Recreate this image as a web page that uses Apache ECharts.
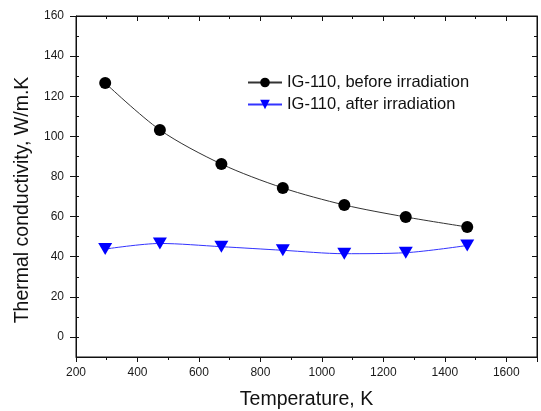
<!DOCTYPE html>
<html><head><meta charset="utf-8">
<script src="https://cdn.jsdelivr.net/npm/echarts@6/dist/echarts.min.js"></script>
<style>html,body{margin:0;padding:0;background:#fff}#c{width:541px;height:411px}</style>
</head><body><div id="c"></div>
<script>
const temperatures = [295, 473, 673, 873, 1073, 1273, 1473];
const beforeIrr = [126.6, 103.2, 86.2, 74.3, 65.8, 59.8, 54.8];
const afterIrr = [43.8, 46.6, 45.0, 43.2, 41.5, 42.0, 45.6];
const yTickLabels = [0, 20, 40, 60, 80, 100, 120, 140, 160];
const xTickLabels = [200, 400, 600, 800, 1000, 1200, 1400, 1600];
const seriesNames = ['IG-110, before irradiation', 'IG-110, after irradiation'];

const font = 'Arial, "Liberation Sans", sans-serif';
const chart = echarts.init(document.getElementById('c'));
const tc = '#111';
const axLine = {show: true, onZero: false, lineStyle: {color: tc, width: 1}};
const noLine = {show: false, onZero: false};
const gridBox = {left: 76, right: 4, top: 16, bottom: 54, outerBoundsMode: 'none', containLabel: false};
const fmt = v => String(v);
chart.setOption({
  animation: false,
  backgroundColor: '#fff',
  grid: [
    Object.assign({show: true, borderColor: tc, borderWidth: 1, backgroundColor: 'transparent'}, gridBox),
    Object.assign({}, gridBox)
  ],
  legend: {
    orient: 'vertical', left: 242, top: 69, itemGap: 5,
    itemWidth: 34, itemHeight: 12,
    textStyle: {fontFamily: font, fontSize: 16.5, color: '#111'},
    data: seriesNames
  },
  xAxis: [{
    gridIndex: 0, type: 'value', min: 200, max: 1700, interval: 200, position: 'bottom',
    axisLine: axLine,
    axisTick: {show: true, inside: false, length: 5, lineStyle: {color: tc}},
    minorTick: {show: true, splitNumber: 2, length: 3, lineStyle: {color: tc}},
    splitLine: {show: false},
    axisLabel: {customValues: xTickLabels, formatter: fmt, fontFamily: font, fontSize: 12, color: '#1a1a1a', margin: 10},
    name: 'Temperature, K', nameLocation: 'middle', nameGap: 33,
    nameTextStyle: {fontFamily: font, fontSize: 19.5, color: '#111'}
  }, {
    gridIndex: 0, type: 'value', min: 200, max: 1700, interval: 200, position: 'top',
    axisLine: axLine,
    axisTick: {show: true, inside: true, length: 5, lineStyle: {color: tc}},
    minorTick: {show: true, splitNumber: 2, length: 3, lineStyle: {color: tc}},
    splitLine: {show: false}, axisLabel: {show: false}
  }, {
    gridIndex: 1, type: 'value', min: 200, max: 1700, show: false
  }],
  yAxis: [{
    gridIndex: 0, type: 'value', min: -10, max: 160, interval: 10, position: 'left',
    axisLine: axLine,
    axisTick: {show: true, inside: false, length: 6, customValues: yTickLabels, lineStyle: {color: tc}},
    splitLine: {show: false},
    axisLabel: {customValues: yTickLabels, formatter: fmt, fontFamily: font, fontSize: 12, color: '#1a1a1a', margin: 12},
    name: 'Thermal conductivity, W/m.K', nameLocation: 'middle', nameGap: 40,
    nameTextStyle: {fontFamily: font, fontSize: 19.5, color: '#111', padding: [0, 27, 0, 0]}
  }, {
    gridIndex: 0, type: 'value', min: -10, max: 160, interval: 10, position: 'right',
    axisLine: axLine,
    axisTick: {show: true, inside: true, length: 5, customValues: yTickLabels, lineStyle: {color: tc}},
    splitLine: {show: false}, axisLabel: {show: false}
  }, {
    gridIndex: 1, type: 'value', min: -10, max: 160, interval: 10, position: 'left',
    axisLine: noLine,
    axisTick: {show: true, inside: true, length: 3, lineStyle: {color: tc}},
    splitLine: {show: false}, axisLabel: {show: false}
  }, {
    gridIndex: 1, type: 'value', min: -10, max: 160, interval: 10, position: 'right',
    axisLine: noLine,
    axisTick: {show: true, inside: true, length: 3, lineStyle: {color: tc}},
    splitLine: {show: false}, axisLabel: {show: false}
  }],
  series: [{
    name: seriesNames[0], type: 'line', smooth: 0.3,
    xAxisIndex: 0, yAxisIndex: 0,
    data: temperatures.map((t, i) => [t, beforeIrr[i]]),
    symbol: 'circle', symbolSize: 12,
    itemStyle: {color: '#000'},
    lineStyle: {color: '#333', width: 1}
  }, {
    name: seriesNames[1], type: 'line', smooth: 0.3,
    xAxisIndex: 0, yAxisIndex: 0,
    data: temperatures.map((t, i) => [t, afterIrr[i]]),
    symbol: 'triangle', symbolRotate: 180, symbolSize: [14, 12],
    itemStyle: {color: '#0000ff'},
    lineStyle: {color: '#3333ff', width: 1}
  }]
});
</script></body></html>
